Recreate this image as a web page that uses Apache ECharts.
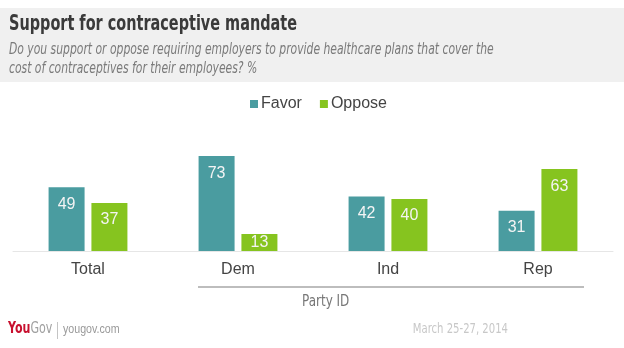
<!DOCTYPE html>
<html>
<head>
<meta charset="utf-8">
<script src="https://cdn.jsdelivr.net/npm/echarts@6/dist/echarts.min.js"></script>
<style>
  html, body { margin: 0; padding: 0; background: #fff; }
  #chart { width: 624px; height: 348px; }
</style>
</head>
<body>
<div id="chart"></div>
<script>
// Support for the contraceptive mandate, by party ID (%)
const categories = ['Total', 'Dem', 'Ind', 'Rep'];
const favor = [49, 73, 42, 31];
const oppose = [37, 13, 40, 63];
const seriesNames = ['Favor', 'Oppose'];

const TEAL = '#4a9ca0';
const GREEN = '#86c41f';
const NARROW = '"DejaVu Sans Condensed", "DejaVu Sans", sans-serif';
const BODY = '"Liberation Sans", Arial, sans-serif';

const chart = echarts.init(document.getElementById('chart'));

const valueLabel = {
  show: true,
  position: 'insideTop',
  distance: 9,
  color: '#f4f4f4',
  fontSize: 16,
  fontFamily: BODY
};

// short bars get their value centred inside the bar instead of near the top
function barData(values) {
  return values.map(v => v < 20
    ? { value: v, label: { position: 'inside' } }
    : v);
}

chart.setOption({
  animation: false,
  backgroundColor: '#ffffff',
  legend: {
    data: seriesNames,
    left: 245,
    top: 91,
    icon: 'rect',
    itemWidth: 8,
    itemHeight: 8,
    itemGap: 18,
    textStyle: { fontSize: 16, color: '#444', fontFamily: BODY, padding: [0, 0, 0, -2] }
  },
  grid: { left: 13, right: 11, top: 121, bottom: 97, containLabel: false },
  xAxis: {
    type: 'category',
    data: categories,
    axisLine: { show: true, lineStyle: { color: '#e6e6e6', width: 1 } },
    axisTick: { show: false },
    axisLabel: { fontSize: 16, color: '#444', fontFamily: BODY, margin: 11 }
  },
  yAxis: {
    type: 'value',
    min: 0,
    max: 100,
    show: false,
    splitLine: { show: false }
  },
  series: [
    {
      name: seriesNames[0],
      type: 'bar',
      data: barData(favor),
      barWidth: 36,
      barGap: '19%',
      itemStyle: { color: TEAL },
      label: valueLabel
    },
    {
      name: seriesNames[1],
      type: 'bar',
      data: barData(oppose),
      barWidth: 36,
      itemStyle: { color: GREEN },
      label: valueLabel
    }
  ],
  graphic: [
    // header band
    { type: 'rect', x: 0, y: 8, shape: { width: 624, height: 74 }, style: { fill: '#f0f0f0' }, z: -1 },
    { type: 'text', x: 9, y: 13, scaleX: 0.73, style: {
        text: 'Support for contraceptive mandate',
        font: 'bold 22px ' + NARROW, fill: '#3a3a3a', textVerticalAlign: 'top' } },
    { type: 'text', x: 9, y: 41, scaleX: 0.8, style: {
        text: 'Do you support or oppose requiring employers to provide healthcare plans that cover the\ncost of contraceptives for their employees? %',
        font: 'italic 15px ' + NARROW, fill: '#7a7a7a', lineHeight: 19, textVerticalAlign: 'top' } },
    // party ID bracket
    { type: 'rect', x: 198, y: 286, shape: { width: 386, height: 2 }, style: { fill: '#bdbdbd' } },
    { type: 'text', x: 302, y: 295, scaleX: 0.89, style: {
        text: 'Party ID', font: '15px ' + NARROW, fill: '#777', textVerticalAlign: 'top' } },
    // footer
    { type: 'text', x: 8, y: 321, scaleX: 0.77, style: {
        rich: {
          you: { fontSize: 16, fontWeight: 'bold', fill: '#c8102e', fontFamily: NARROW },
          gov: { fontSize: 16, fill: '#a0a0a0', fontFamily: NARROW }
        },
        text: '{you|You}{gov|Gov}', textVerticalAlign: 'top' } },
    { type: 'rect', x: 57, y: 322, shape: { width: 1, height: 17 }, style: { fill: '#c4c4c4' } },
    { type: 'text', x: 63, y: 323, scaleX: 0.82, style: {
        text: 'yougov.com', font: '13px ' + BODY, fill: '#9a9a9a', textVerticalAlign: 'top' } },
    { type: 'text', x: 508, y: 322, scaleX: 0.8, style: {
        text: 'March 25-27, 2014', font: '14px ' + NARROW, fill: '#c8c8c8',
        textAlign: 'right', textVerticalAlign: 'top' } }
  ]
});
</script>
</body>
</html>
